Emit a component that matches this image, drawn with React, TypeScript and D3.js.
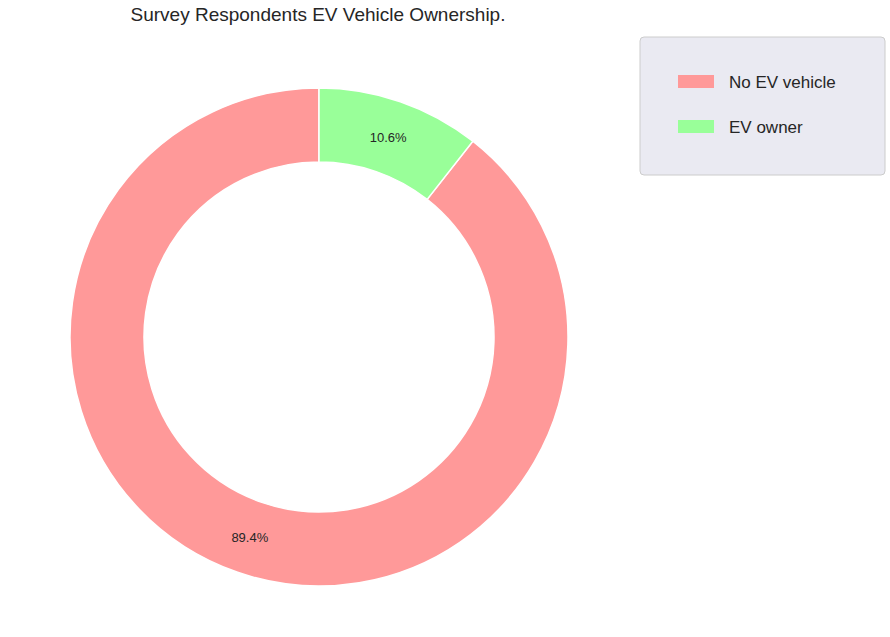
import * as d3 from 'd3';

const labels = ['No EV vehicle', 'EV owner'];
const values = [89.4, 10.6];
const colors = ['#ff9999', '#99ff99'];

export default function App() {
  const cx = 319, cy = 337, outer = 249, inner = 175;
  const evShare = values[1] / d3.sum(values);
  const pie = d3.pie<number>().sort(null)
    .startAngle(2 * Math.PI * evShare)
    .endAngle(2 * Math.PI * (1 + evShare));
  const arcs = pie(values);
  const arc = d3.arc<d3.PieArcDatum<number>>().innerRadius(inner).outerRadius(outer);
  const labelArc = d3.arc<d3.PieArcDatum<number>>().innerRadius(outer * 0.85).outerRadius(outer * 0.85);
  const font = "'Liberation Sans', Arial, sans-serif";
  return (
    <svg width={890} height={637} style={{ position: 'absolute', left: 0, top: 0, background: '#fff' }} fontFamily={font}>
      <text x={318} y={21} textAnchor="middle" fontSize={19} fill="#262626">Survey Respondents EV Vehicle Ownership.</text>
      <g transform={`translate(${cx},${cy})`}>
        {arcs.map((a, i) => (
          <path key={i} d={arc(a) ?? ''} fill={colors[i]} stroke="#fff" strokeWidth={1.5} />
        ))}
        {arcs.map((a, i) => {
          const [x, y] = labelArc.centroid(a);
          return (
            <text key={i} x={x} y={y} dy="0.35em" textAnchor="middle" fontSize={13} fill="#262626">
              {values[i].toFixed(1)}%
            </text>
          );
        })}
      </g>
      <rect x={640} y={37} width={245} height={138} rx={4} fill="#eaeaf2" stroke="#cccccc" />
      {labels.map((l, i) => (
        <g key={l} transform={`translate(678,${75 + i * 45})`}>
          <rect width={36} height={13} fill={colors[i]} />
          <text x={51} y={7} dy="0.35em" fontSize={17} fill="#262626">{l}</text>
        </g>
      ))}
    </svg>
  );
}
